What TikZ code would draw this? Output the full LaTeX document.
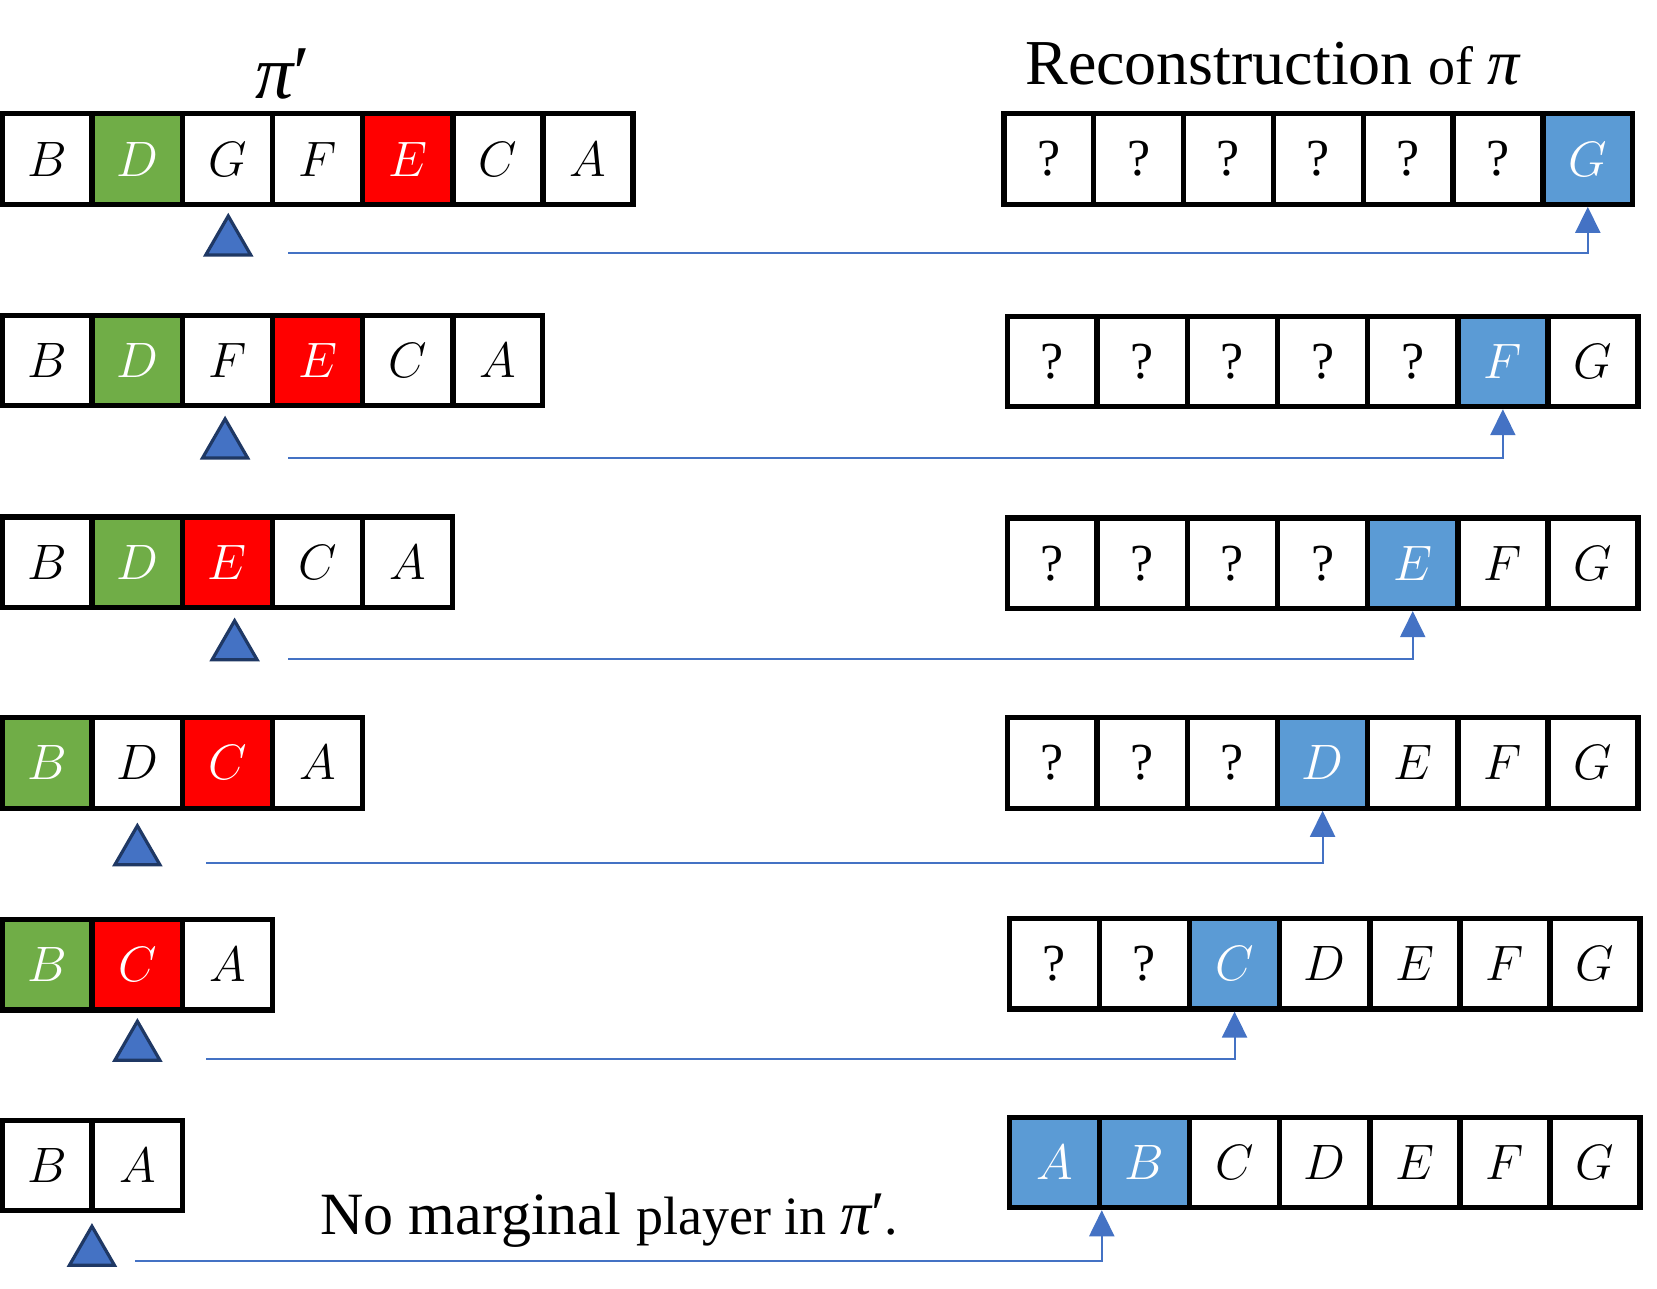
\documentclass[tikz,border=0pt]{standalone}
\usepackage{fontspec}
\newfontfamily\tnr{Liberation Serif}
\usetikzlibrary{shapes.geometric,arrows.meta}
\definecolor{cgreen}{HTML}{70AD47}
\definecolor{cred}{HTML}{FF0000}
\definecolor{cblue}{HTML}{5B9BD5}
\definecolor{lblue}{HTML}{4472C4}
\definecolor{dblue}{HTML}{1F3864}
\newcommand{\mypi}{{\tnr\itshape π}}
\tikzset{
 cell/.style={draw=black, line width=2.6pt, minimum width=44.9pt, minimum height=45.2pt, inner sep=0pt, fill=white, font=\fontsize{28}{30}\selectfont},
 grn/.style={cell, fill=cgreen, text=white},
 rd/.style={cell, fill=cred, text=white},
 bl/.style={cell, fill=cblue, text=white},
 qm/.style={cell, font=\tnr\fontsize{26}{28}\selectfont},
 marker/.style={regular polygon, regular polygon sides=3, fill=lblue, draw=dblue, line width=1.6pt, minimum size=26pt, inner sep=0pt},
 conn/.style={draw=lblue, line width=1pt, -{Triangle[width=12.5pt,length=13pt]}},
 lbl/.style={inner sep=0pt, font=\tnr},
}
\begin{document}
\begin{tikzpicture}[x=0.5284pt, y=-0.5284pt]
\useasboundingbox (0,0) rectangle (1568,1219);
% left rows
\foreach \l/\s [count=\i from 0] in {B/cell,D/grn,G/cell,F/cell,E/rd,C/cell,A/cell}
  \node[style=\s] (L1-\i) at ({2+85.3*(\i+0.5)},150.5) {$\l$};
\foreach \l/\s [count=\i from 0] in {B/cell,D/grn,F/cell,E/rd,C/cell,A/cell}
  \node[style=\s] (L2-\i) at ({2+85.3*(\i+0.5)},341) {$\l$};
\foreach \l/\s [count=\i from 0] in {B/cell,D/grn,E/rd,C/cell,A/cell}
  \node[style=\s] (L3-\i) at ({2+85.3*(\i+0.5)},532) {$\l$};
\foreach \l/\s [count=\i from 0] in {B/grn,D/cell,C/rd,A/cell}
  \node[style=\s] (L4-\i) at ({2+85.3*(\i+0.5)},722) {$\l$};
\foreach \l/\s [count=\i from 0] in {B/grn,C/rd,A/cell}
  \node[style=\s] (L5-\i) at ({2+85.3*(\i+0.5)},913) {$\l$};
\foreach \l/\s [count=\i from 0] in {B/cell,A/cell}
  \node[style=\s] (L6-\i) at ({2+85.3*(\i+0.5)},1103) {$\l$};
% right rows
\foreach \l/\s [count=\i from 0] in {?/qm,?/qm,?/qm,?/qm,?/qm,?/qm,$G$/bl}
  \node[style=\s] (R1-\i) at ({950+85*(\i+0.5)},150.5) {\l};
\foreach \l/\s [count=\i from 0] in {?/qm,?/qm,?/qm,?/qm,?/qm,$F$/bl,$G$/cell}
  \node[style=\s] (R2-\i) at ({953+85.3*(\i+0.5)},342) {\l};
\foreach \l/\s [count=\i from 0] in {?/qm,?/qm,?/qm,?/qm,$E$/bl,$F$/cell,$G$/cell}
  \node[style=\s] (R3-\i) at ({953+85.3*(\i+0.5)},533) {\l};
\foreach \l/\s [count=\i from 0] in {?/qm,?/qm,?/qm,$D$/bl,$E$/cell,$F$/cell,$G$/cell}
  \node[style=\s] (R4-\i) at ({953+85.3*(\i+0.5)},722) {\l};
\foreach \l/\s [count=\i from 0] in {?/qm,?/qm,$C$/bl,$D$/cell,$E$/cell,$F$/cell,$G$/cell}
  \node[style=\s] (R5-\i) at ({955+85.3*(\i+0.5)},912) {\l};
\foreach \l/\s [count=\i from 0] in {$A$/bl,$B$/bl,$C$/cell,$D$/cell,$E$/cell,$F$/cell,$G$/cell}
  \node[style=\s] (R6-\i) at ({955+85.3*(\i+0.5)},1100) {\l};
% markers
\node[marker] (t1) at (216,229) {};
\node[marker] (t2) at (213,421) {};
\node[marker] (t3) at (222,612) {};
\node[marker] (t4) at (130,806) {};
\node[marker] (t5) at (130,991) {};
\node[marker] (t6) at (87,1185) {};
% connectors
\coordinate (s1) at (273,239);
\coordinate (s2) at (273,433);
\coordinate (s3) at (273,624);
\coordinate (s4) at (195,817);
\coordinate (s5) at (195,1002);
\coordinate (s6) at (128,1193);
\draw[conn] (s1) -| (R1-6.south);
\draw[conn] (s2) -| (R2-5.south);
\draw[conn] (s3) -| (R3-4.south);
\draw[conn] (s4) -| (R4-3.south);
\draw[conn] (s5) -| (R5-2.south);
\draw[conn] (s6) -| (R6-0.south east);
% labels
\node[lbl, anchor=base] (pil) at (268,93) {\fontsize{38}{40}\selectfont\mypi′};
\node[lbl, anchor=base west] (title) at (970,80) {\fontsize{32}{34}\selectfont Reconstruction {\fontsize{27}{29}\selectfont of {\fontsize{32}{34}\selectfont\mypi}}};
\node[lbl, anchor=base west] (note) at (303,1168) {\fontsize{30}{32}\selectfont No marginal {\fontsize{27}{29}\selectfont player in {\fontsize{31}{33}\selectfont\mypi′}.}};
\end{tikzpicture}
\end{document}
